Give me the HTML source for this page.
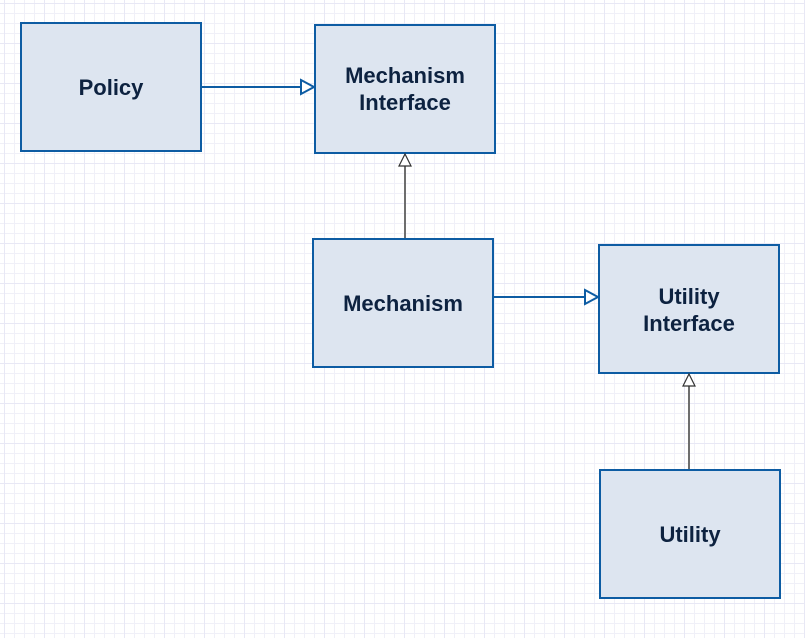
<!DOCTYPE html>
<html><head><meta charset="utf-8"><style>
html,body{margin:0;padding:0;background:#fff;}
svg{display:block;}
text{font-family:"Liberation Sans",Arial,sans-serif;font-weight:bold;font-size:22px;fill:#0d2240;text-anchor:middle;}
</style></head><body>
<svg width="805" height="638" xmlns="http://www.w3.org/2000/svg">
<defs>
<pattern id="g" x="4" y="3" width="10" height="10" patternUnits="userSpaceOnUse">
<path d="M0 0.5H10M0.5 0V10" stroke="#f0f0f8" stroke-width="1" fill="none"/>
</pattern>
<pattern id="G" x="4" y="3" width="40" height="40" patternUnits="userSpaceOnUse">
<path d="M0 0.5H40M0.5 0V40" stroke="#e8e8f5" stroke-width="1" fill="none"/>
</pattern>
</defs>
<rect width="805" height="638" fill="url(#g)"/>
<rect width="805" height="638" fill="url(#G)"/>

<g fill="#dde5f0" stroke="#0d5ca3" stroke-width="2">
<rect x="21" y="23" width="180" height="128"/>
<rect x="315" y="25" width="180" height="128"/>
<rect x="313" y="239" width="180" height="128"/>
<rect x="599" y="245" width="180" height="128"/>
<rect x="600" y="470" width="180" height="128"/>
</g>

<line x1="201" y1="87" x2="301" y2="87" stroke="#0d5ca3" stroke-width="2"/>
<path d="M301 80 L314 87 L301 94 Z" fill="#fff" stroke="#0d5ca3" stroke-width="2"/>
<line x1="493" y1="297" x2="585" y2="297" stroke="#0d5ca3" stroke-width="2"/>
<path d="M585 290 L598 297 L585 304 Z" fill="#fff" stroke="#0d5ca3" stroke-width="2"/>
<line x1="405" y1="238" x2="405" y2="166" stroke="#6e6e6e" stroke-width="2"/>
<path d="M399 166 L405 154 L411 166 Z" fill="#fff" stroke="#333" stroke-width="1.2"/>
<line x1="689" y1="469" x2="689" y2="386" stroke="#6e6e6e" stroke-width="2"/>
<path d="M683 386 L689 374 L695 386 Z" fill="#fff" stroke="#333" stroke-width="1.2"/>

<text x="111" y="95">Policy</text>
<text x="405" y="83">Mechanism</text>
<text x="405" y="110">Interface</text>
<text x="403" y="311">Mechanism</text>
<text x="689" y="304">Utility</text>
<text x="689" y="331">Interface</text>
<text x="690" y="542">Utility</text>
</svg>
</body></html>
